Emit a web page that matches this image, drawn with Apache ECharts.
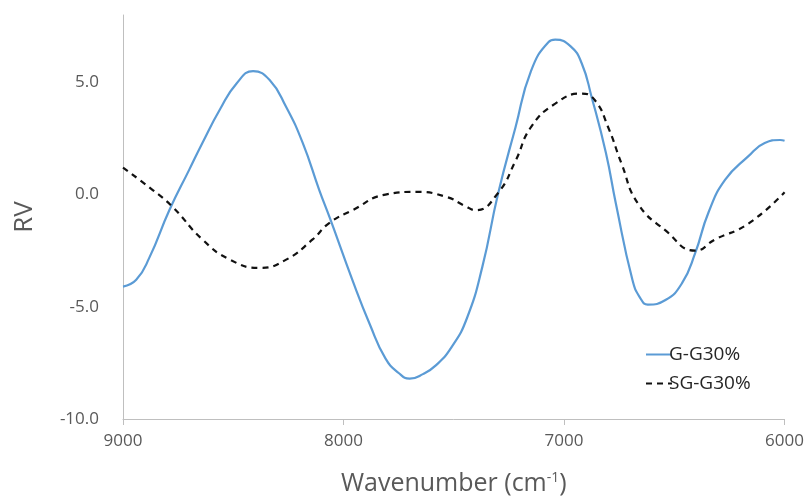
<!DOCTYPE html>
<html>
<head>
<meta charset="utf-8">
<script src="https://cdn.jsdelivr.net/npm/echarts@6/dist/echarts.min.js"></script>
<style>html,body{margin:0;padding:0;background:#fff;}#c{width:807px;height:504px;}</style>
</head>
<body>
<div id="c"></div>
<script>
var gX = [9000,8940,8880,8790,8700,8640,8560,8485,8410,8335,8260,8185,8110,8060,7960,7880,7810,7750,7700,7640,7580,7510,7440,7370,7300,7220,7150,7070,7040,6970,6920,6875,6810,6765,6690,6655,6620,6540,6465,6405,6345,6270,6165,6090,6020,6000];
var gY = [-4.1,-3.8,-2.8,-0.7,1.1,2.3,3.8,4.95,5.5,5.1,3.9,2.3,0.2,-1.1,-3.8,-5.8,-7.3,-7.95,-8.2,-8.0,-7.6,-6.8,-5.5,-3.2,0.0,3.0,5.5,6.8,6.9,6.6,5.85,4.35,1.85,-0.4,-3.8,-4.6,-4.9,-4.7,-3.95,-2.6,-0.8,0.65,1.7,2.3,2.43,2.4];
var sgX = [9000,8865,8775,8640,8515,8380,8260,8140,8065,7960,7810,7670,7535,7450,7400,7300,7220,7150,7040,6920,6860,6800,6740,6665,6540,6405,6315,6165,6000];
var sgY = [1.2,0.2,-0.55,-2.0,-2.9,-3.27,-2.9,-2.0,-1.27,-0.7,0.0,0.12,-0.1,-0.5,-0.7,0.06,1.5,3.0,4.05,4.5,4.2,3.0,1.4,-0.4,-1.6,-2.5,-2.0,-1.3,0.1];
var xTicks = [6000,7000,8000,9000];
var yTicks = [-10,-5,0,5];
var names = ['G-G30%','SG-G30%'];

function pairs(xs, ys){ return xs.map(function(x,i){ return [x, ys[i]]; }); }
var FONT = '"Open Sans", sans-serif';
var chart = echarts.init(document.getElementById('c'));
chart.setOption({
  animation: false,
  backgroundColor: '#fff',
  textStyle: {fontFamily: FONT},
  grid: {left: 123, right: 20, top: 15, bottom: 85},
  legend: {
    orient: 'vertical', left: 640, top: 340, itemGap: 10,
    itemWidth: 26, itemHeight: 14,
    itemStyle: {opacity: 0},
    textStyle: {fontSize: 19, color: '#262626', fontFamily: FONT, padding: [0,0,0,-8]},
    data: names
  },
  xAxis: {
    type: 'value', inverse: true, min: 6000, max: 9000, interval: 1000,
    name: '{a|Wavenumber (cm}{s|-1}{a|)}', nameLocation: 'middle', nameGap: 52,
    nameTextStyle: {rich: {a: {fontSize: 25, color: '#595959', fontFamily: FONT}, s: {fontSize: 14, color: '#595959', verticalAlign: 'top', padding:[0,0,10,0], fontFamily: FONT}}},
    axisLine: {show: true, onZero: false, lineStyle: {color: '#BFBFBF', width: 1}},
    axisTick: {show: true, length: 6, lineStyle: {color: '#BFBFBF'}},
    axisLabel: {fontSize: 17, color: '#595959', margin: 14, formatter: function(v){ return xTicks.indexOf(v) >= 0 ? String(v) : ''; }},
    splitLine: {show: false}
  },
  yAxis: {
    type: 'value', min: -10, max: 8, interval: 5,
    name: 'RV', nameLocation: 'middle', nameGap: 85, nameRotate: 90,
    nameTextStyle: {fontSize: 26, color: '#595959', fontFamily: FONT},
    axisLine: {show: true, onZero: false, lineStyle: {color: '#BFBFBF', width: 1}},
    axisTick: {show: false},
    axisLabel: {fontSize: 17, color: '#595959', margin: 24, showMaxLabel: false, formatter: function(v){ return yTicks.indexOf(v) >= 0 ? v.toFixed(1) : ''; }},
    splitLine: {show: false}
  },
  series: [
    {name: names[0], type: 'line', data: pairs(gX, gY), smooth: 0.5, showSymbol: false, symbol: 'none',
     lineStyle: {color: '#5B9BD5', width: 2.2}, itemStyle: {color: '#5B9BD5'}},
    {name: names[1], type: 'line', data: pairs(sgX, sgY), smooth: 0.5, showSymbol: false, symbol: 'none',
     lineStyle: {color: '#111', width: 2.2, type: [6,5]}, itemStyle: {color: '#111'}}
  ]
});
</script>
</body>
</html>
